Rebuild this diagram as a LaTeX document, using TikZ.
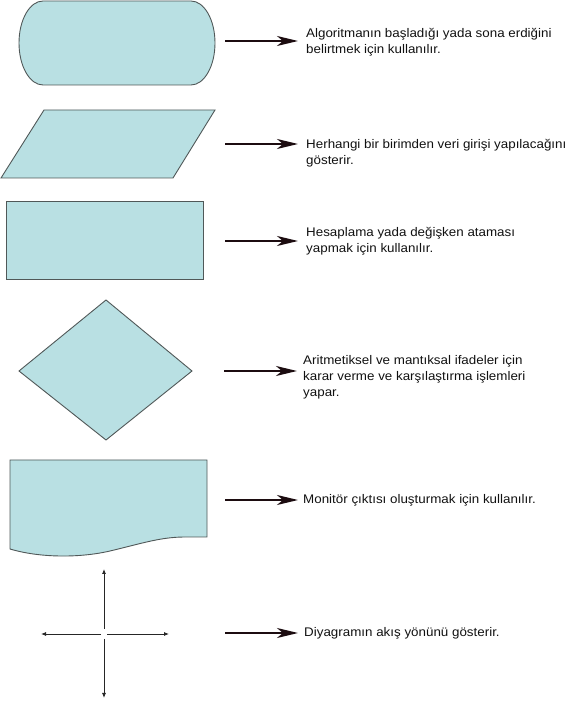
\documentclass[tikz,border=0pt]{standalone}
\usepackage{fontspec}
\setmainfont{Liberation Sans}[FakeStretch=1.07]
\usetikzlibrary{arrows.meta}
\definecolor{shapefill}{RGB}{185,224,227}
\definecolor{shapeline}{RGB}{80,88,88}
\definecolor{arrowink}{RGB}{28,12,16}
\definecolor{textink}{RGB}{17,17,17}
\begin{document}
\begin{tikzpicture}[x=1pt,y=1pt,
  symbol/.style={fill=shapefill,draw=shapeline,line width=0.9pt,line join=miter},
  pointer/.style={draw=arrowink,line width=2pt,
    -{Stealth[length=21pt,width=10pt,inset=6pt]}},
  flowarrow/.style={draw=black!85,line width=0.8pt,
    -{Latex[length=5pt,width=4pt]}},
  note/.style={anchor=north west,align=left,inner sep=0pt,text=textink,
    font=\fontsize{12.5}{16}\selectfont}]
  \useasboundingbox (0,0) rectangle (567,704);

  % terminal (start / end)
  \draw[symbol] (43,703) -- (191,703)
    arc[start angle=90,end angle=-90,x radius=24,y radius=42]
    -- (43,619)
    arc[start angle=-90,end angle=-270,x radius=24,y radius=42] -- cycle;
  % input (parallelogram)
  \draw[symbol] (44,594) -- (215,594) -- (173,526) -- (1,526) -- cycle;
  % process (rectangle)
  \draw[symbol] (6,503) rectangle (203,425);
  % decision (diamond)
  \draw[symbol] (106,404) -- (192,333) -- (106,264) -- (19,333) -- cycle;
  % output (document)
  \draw[symbol] (10,244) -- (207,244) -- (207,167) -- (185,167)
    .. controls (160,167) and (140,160) .. (110,153)
    .. controls (80,146) and (40,146) .. (10,155) -- cycle;
  % flow directions
  \coordinate (c) at (104,70);
  \coordinate (cu) at (104,135);
  \coordinate (cd) at (104,6);
  \coordinate (cl) at (41,70);
  \coordinate (cr) at (169,70);
  \draw[flowarrow,shorten <=5pt] (c) -- (cu);
  \draw[flowarrow,shorten <=5pt] (c) -- (cd);
  \draw[flowarrow,shorten <=3pt] (c) -- (cl);
  \draw[flowarrow,shorten <=3pt] (c) -- (cr);

  % descriptions
  \node[note] (t1) at (306,676) {Algoritmanın başladığı yada sona erdiğini\\belirtmek için kullanılır.};
  \node[note] (t2) at (306,565) {Herhangi bir birimden veri girişi yapılacağını\\gösterir.};
  \node[note] (t3) at (306,477) {Hesaplama yada değişken ataması\\yapmak için kullanılır.};
  \node[note] (t4) at (303,349) {Aritmetiksel ve mantıksal ifadeler için\\karar verme ve karşılaştırma işlemleri\\yapar.};
  \node[note] (t5) at (303,210) {Monitör çıktısı oluşturmak için kullanılır.};
  \node[note] (t6) at (304,77) {Diyagramın akış yönünü gösterir.};

  % pointers from the symbols to their descriptions
  \coordinate (a1) at (225,663);
  \coordinate (a2) at (225,560);
  \coordinate (a3) at (225,463);
  \coordinate (a4) at (224,333);
  \coordinate (a5) at (225,204);
  \coordinate (a6) at (225,71);
  \draw[pointer,shorten >=8pt] (a1) -- (a1 -| t1.west);
  \draw[pointer,shorten >=8pt] (a2) -- (a2 -| t2.west);
  \draw[pointer,shorten >=8pt] (a3) -- (a3 -| t3.west);
  \draw[pointer,shorten >=6pt] (a4) -- (a4 -| t4.west);
  \draw[pointer,shorten >=5pt] (a5) -- (a5 -| t5.west);
  \draw[pointer,shorten >=6pt] (a6) -- (a6 -| t6.west);
\end{tikzpicture}
\end{document}
